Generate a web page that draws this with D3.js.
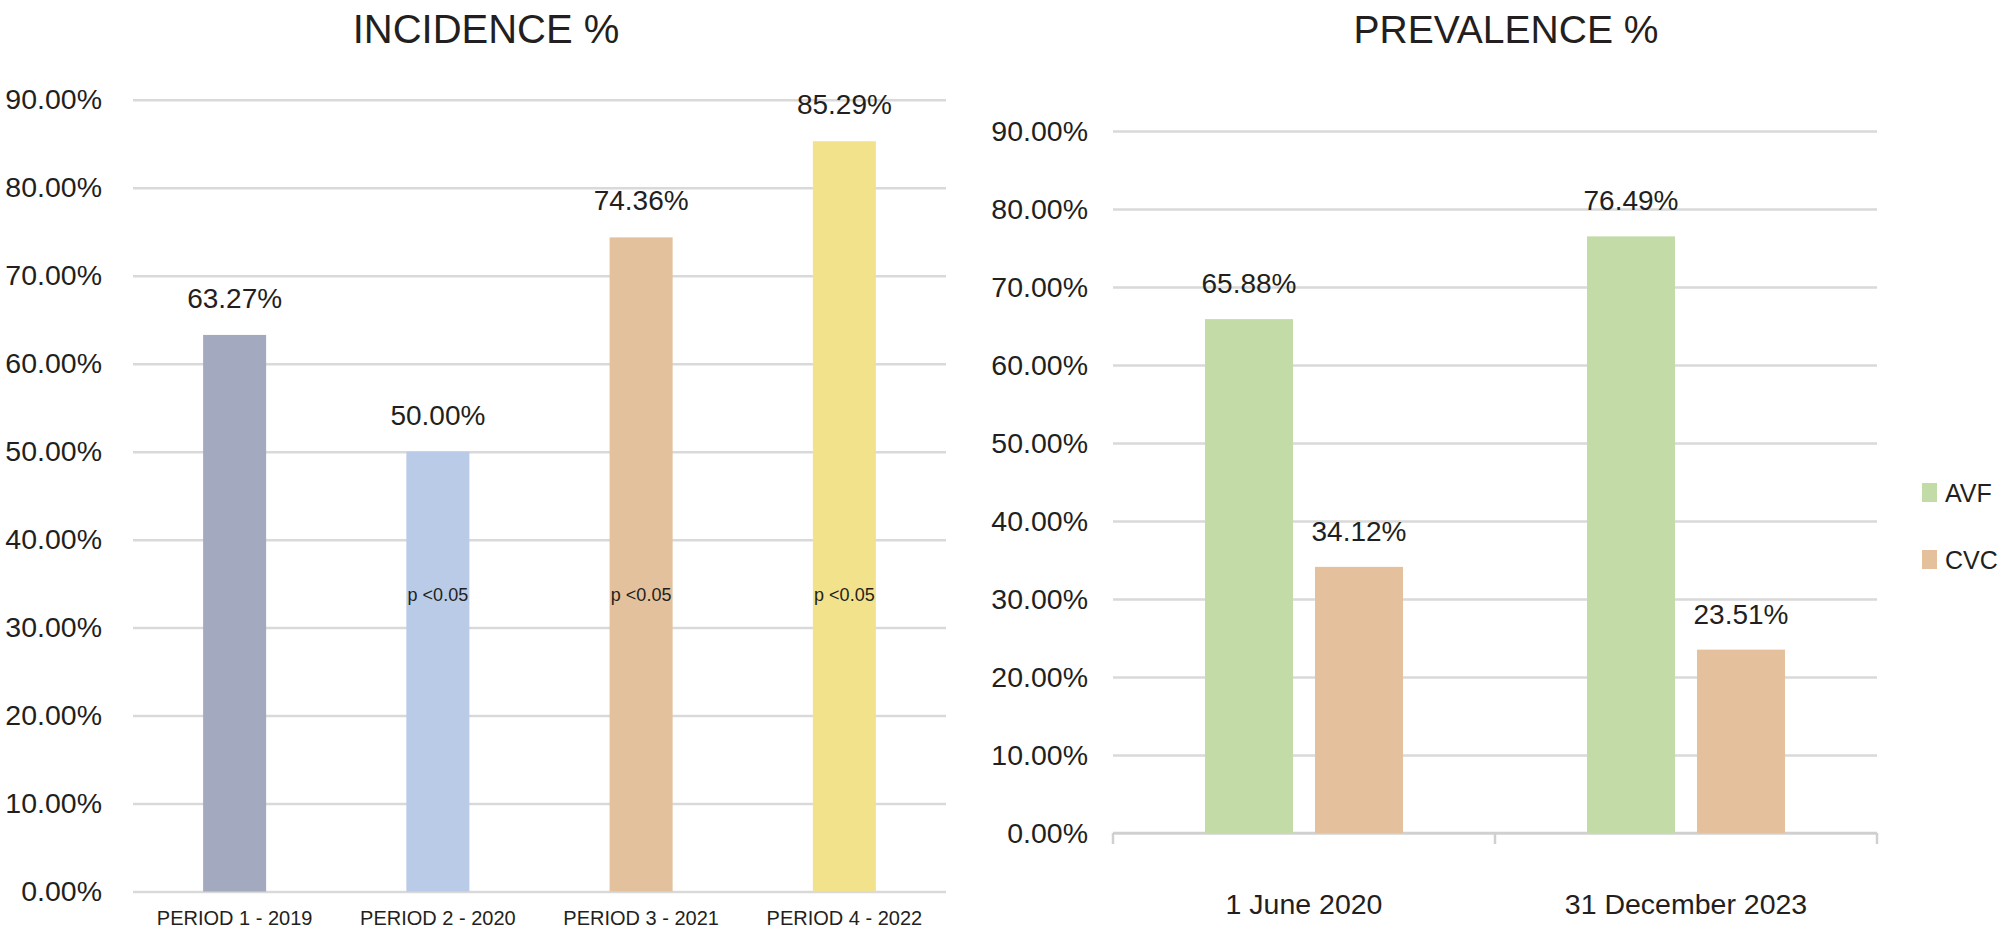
<!DOCTYPE html>
<meta charset="utf-8">
<style>
    body { margin: 0; background: #fff; }
    svg text { font-family: "Liberation Sans", Arial, sans-serif; fill: #231f20; }
    .domain { display: none; }
    .grid .tick line { stroke: #d9d9d9; stroke-width: 2.5; }
</style>
<script src="https://d3js.org/d3.v7.min.js"></script>
<div id="chart"></div>
<script>
    /* Data */
    var incCategories = ["PERIOD 1 - 2019", "PERIOD 2 - 2020", "PERIOD 3 - 2021", "PERIOD 4 - 2022"];
    var incValues = [63.27, 50.00, 74.36, 85.29];
    var incNotes = ["", "p <0.05", "p <0.05", "p <0.05"];
    var incColors = ["#a3a9bf", "#bacbe7", "#e3c19c", "#f2e28c"];

    var prevCategories = ["1 June 2020", "31 December 2023"];
    var prevSeries = ["AVF", "CVC"];
    var avfValues = [65.88, 76.49];
    var cvcValues = [34.12, 23.51];
    var prevColors = ["#c3dba7", "#e4c09c"];

    var yTicks = [0, 10, 20, 30, 40, 50, 60, 70, 80, 90];

    var width = 2006, height = 932;
    var pct = function(d) { return d3.format(".2f")(d) + "%"; };

    var svg = d3.select("#chart").append("svg").attr("width", width).attr("height", height);

    /* ---- Left panel: incidence ---- */
    var L = { x0: 133, x1: 946, y0: 891.5, y90: 99.8 };
    var yL = d3.scaleLinear().domain([0, 90]).range([L.y0, L.y90]);
    var xL = d3.scaleBand().domain(incCategories).range([L.x0, L.x1])
            .paddingInner(0.69).paddingOuter(0.345);

    svg.append("g").attr("class", "grid")
        .attr("transform", "translate(" + L.x0 + ",0)")
        .call(d3.axisLeft(yL).tickValues(yTicks).tickFormat(pct)
              .tickSize(-(L.x1 - L.x0)).tickPadding(31))
        .selectAll("text").attr("font-size", "28.5px");

    svg.selectAll(".incbar").data(incValues).enter().append("rect")
        .attr("x", function(d, i) { return xL(incCategories[i]); })
        .attr("y", function(d) { return yL(d); })
        .attr("width", xL.bandwidth())
        .attr("height", function(d) { return L.y0 - yL(d); })
        .attr("fill", function(d, i) { return incColors[i]; });

    svg.selectAll(".inclabel").data(incValues).enter().append("text")
        .attr("x", function(d, i) { return xL(incCategories[i]) + xL.bandwidth() / 2; })
        .attr("y", function(d) { return yL(d) - 27; })
        .attr("text-anchor", "middle").attr("font-size", "28px")
        .text(pct);

    svg.selectAll(".incnote").data(incNotes).enter().append("text")
        .attr("x", function(d, i) { return xL(incCategories[i]) + xL.bandwidth() / 2; })
        .attr("y", yL(33.6))
        .attr("text-anchor", "middle").attr("dominant-baseline", "middle")
        .attr("font-size", "18px")
        .text(function(d) { return d; });

    svg.selectAll(".inccat").data(incCategories).enter().append("text")
        .attr("x", function(d) { return xL(d) + xL.bandwidth() / 2; })
        .attr("y", 925)
        .attr("text-anchor", "middle").attr("font-size", "20px")
        .text(function(d) { return d; });

    svg.append("text").attr("x", 486).attr("y", 43)
        .attr("text-anchor", "middle").attr("font-size", "40px")
        .text("INCIDENCE %");

    /* ---- Right panel: prevalence ---- */
    var R = { x0: 1113, x1: 1877, y0: 833, y90: 131 };
    var yR = d3.scaleLinear().domain([0, 90]).range([R.y0, R.y90]);
    var xR = d3.scaleBand().domain(prevCategories).range([R.x0, R.x1]);
    var xS = d3.scaleBand().domain(prevSeries).range([92, 290]).paddingInner(0.2);
    var color = d3.scaleOrdinal().domain(prevSeries).range(prevColors);

    svg.append("g").attr("class", "grid")
        .attr("transform", "translate(" + R.x0 + ",0)")
        .call(d3.axisLeft(yR).tickValues(yTicks).tickFormat(pct)
              .tickSize(-(R.x1 - R.x0)).tickPadding(25))
        .selectAll("text").attr("font-size", "28.5px");

    // bottom axis with category ticks
    var xAxisR = svg.append("g").attr("transform", "translate(0," + R.y0 + ")");
    xAxisR.append("line").attr("x1", R.x0).attr("x2", R.x1)
        .attr("stroke", "#d0d0d0").attr("stroke-width", 2.5);
    xAxisR.selectAll(".tk").data(prevCategories.concat(["end"])).enter().append("line")
        .attr("x1", function(d, i) { return i < prevCategories.length ? xR(d) : R.x1; })
        .attr("x2", function(d, i) { return i < prevCategories.length ? xR(d) : R.x1; })
        .attr("y1", 0).attr("y2", 11)
        .attr("stroke", "#d0d0d0").attr("stroke-width", 2.5);

    var prevData = [];
    prevCategories.forEach(function(c, i) {
        prevData.push({ cat: c, s: "AVF", v: avfValues[i] });
        prevData.push({ cat: c, s: "CVC", v: cvcValues[i] });
    });

    svg.selectAll(".prevbar").data(prevData).enter().append("rect")
        .attr("x", function(d) { return xR(d.cat) + xS(d.s); })
        .attr("y", function(d) { return yR(d.v); })
        .attr("width", xS.bandwidth())
        .attr("height", function(d) { return R.y0 - yR(d.v); })
        .attr("fill", function(d) { return color(d.s); });

    svg.selectAll(".prevlabel").data(prevData).enter().append("text")
        .attr("x", function(d) { return xR(d.cat) + xS(d.s) + xS.bandwidth() / 2; })
        .attr("y", function(d) { return yR(d.v) - 26; })
        .attr("text-anchor", "middle").attr("font-size", "28px")
        .text(function(d) { return pct(d.v); });

    svg.selectAll(".prevcat").data(prevCategories).enter().append("text")
        .attr("x", function(d) { return xR(d) + xR.bandwidth() / 2; })
        .attr("y", 914)
        .attr("text-anchor", "middle").attr("font-size", "28.5px")
        .text(function(d) { return d; });

    svg.append("text").attr("x", 1506).attr("y", 43)
        .attr("text-anchor", "middle").attr("font-size", "39px")
        .text("PREVALENCE %");

    // legend
    var legend = svg.selectAll(".leg").data(prevSeries).enter().append("g")
        .attr("transform", function(d, i) { return "translate(1922," + (483 + i * 67) + ")"; });
    legend.append("rect").attr("width", 15).attr("height", 19)
        .attr("fill", function(d) { return color(d); });
    legend.append("text").attr("x", 23).attr("y", 19)
        .attr("font-size", "25px")
        .text(function(d) { return d; });
</script>
